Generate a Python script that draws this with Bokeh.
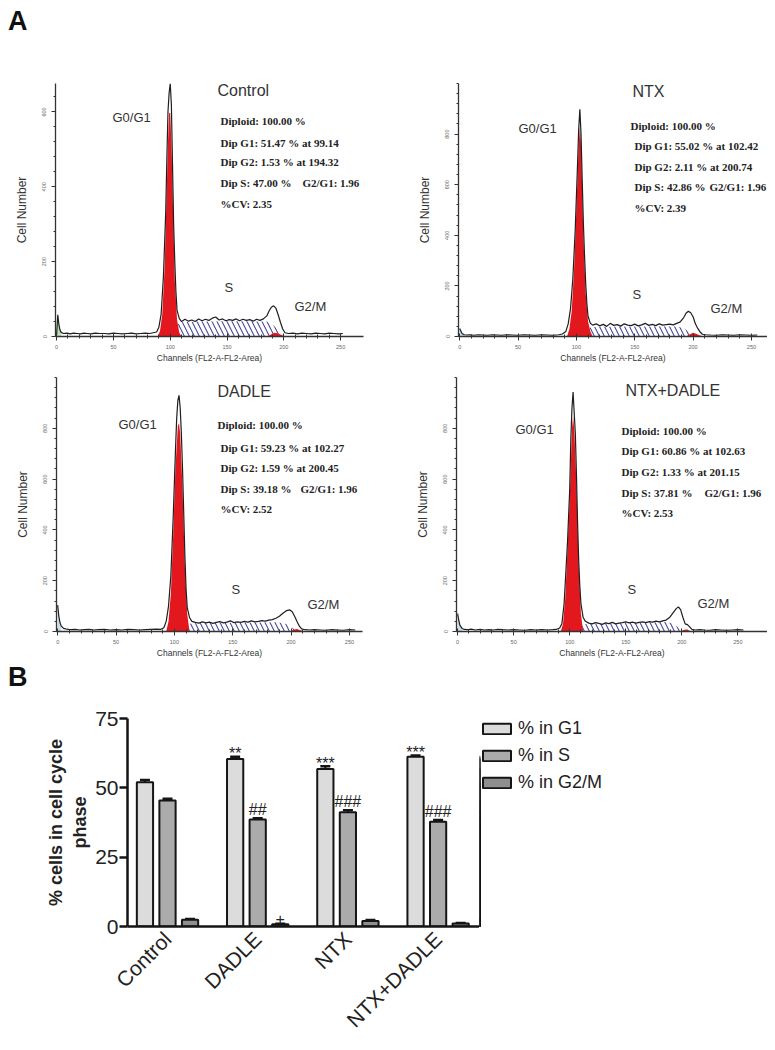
import math
import numpy as np
from bokeh.plotting import figure
from bokeh.models import (Range1d, FixedTicker, Label, Legend, LegendItem, Div,
                          Whisker, ColumnDataSource, TeeHead)
from bokeh.layouts import column, row
from bokeh.embed import file_html
from bokeh.resources import INLINE
from bokeh.core.properties import value

SANS = "Liberation Sans"
SERIF = "Liberation Serif"

# ---------------- Panel A : DNA histograms (channel, cell count) ----------------
ctrl_ch = [0, 1, 2, 3, 4, 6, 9, 12, 15, 18, 21, 24, 27, 30, 34, 38, 42, 46, 50, 54,
           58, 62, 66, 70, 74, 78, 82, 85, 88, 90, 92, 94, 96, 97, 98, 99, 100, 101, 102, 103,
           104, 105, 106, 108, 110, 113, 116, 119, 122, 125, 128, 131, 134, 137, 140, 143, 146, 149, 152, 155,
           158, 161, 164, 167, 170, 173, 176, 179, 182, 185, 187, 189, 191, 193, 195, 197, 199, 201, 204, 208,
           212, 216, 220, 224, 228, 232, 236, 240, 244, 248, 252]
ctrl_n = [5, 58, 32, 17, 11, 8, 9, 7, 9, 8, 7, 9, 8, 7, 9, 8, 8, 7, 9, 8,
          7, 8, 9, 7, 8, 9, 8, 10, 12, 25, 60, 160, 330, 470, 600, 650, 676, 620, 460, 300,
          200, 120, 70, 48, 40, 46, 41, 44, 40, 47, 42, 46, 43, 49, 52, 44, 47, 42, 45, 43,
          47, 42, 46, 43, 45, 41, 46, 43, 47, 55, 68, 78, 82, 76, 58, 38, 20, 10, 8, 9,
          7, 9, 8, 7, 9, 8, 7, 9, 8, 7, 8]
ctrl_red_ch = [89, 91, 93, 95, 97, 98, 99, 100, 101, 102, 104, 106, 108, 110, 186, 189, 192, 195, 198, 201]
ctrl_red_n = [0, 15, 60, 180, 400, 520, 597, 597, 520, 400, 150, 45, 10, 0, 0, 6, 10, 8, 4, 0]
ctrl_s_ch = [103, 106, 109, 115, 125, 135, 145, 155, 165, 175, 185, 190, 195, 201]
ctrl_s_n = [0, 30, 38, 39, 40, 40, 41, 41, 41, 40, 40, 32, 18, 0]
ctrl_stats = ["Diploid: 100.00 %", "Dip G1: 51.47 % at 99.14", "Dip G2: 1.53 % at 194.32",
              "Dip S: 47.00 %", "%CV: 2.35"]
ctrl_ratio = "G2/G1: 1.96"

ntx_ch = [0, 1, 2, 4, 6, 9, 12, 16, 20, 24, 28, 32, 36, 40, 45, 50, 55, 60, 65, 70,
          75, 80, 85, 88, 91, 93, 95, 97, 99, 101, 102, 103, 104, 105, 106, 107, 108, 109, 110, 112,
          114, 117, 120, 123, 126, 129, 132, 135, 138, 141, 144, 147, 150, 153, 156, 159, 162, 165, 168, 171,
          174, 177, 180, 183, 186, 189, 192, 194, 196, 198, 200, 202, 204, 206, 208, 211, 215, 220, 225, 230,
          235, 240, 245, 250, 255]
ntx_n = [32, 22, 12, 7, 6, 7, 5, 7, 6, 5, 7, 6, 5, 7, 6, 5, 7, 6, 5, 7,
         6, 5, 7, 10, 20, 50, 110, 230, 420, 680, 820, 898, 800, 620, 450, 320, 210, 130, 80, 52,
         45, 50, 42, 48, 40, 52, 44, 47, 41, 50, 45, 43, 49, 42, 46, 52, 44, 48, 43, 50,
         45, 47, 49, 46, 52, 58, 75, 92, 100, 94, 78, 50, 32, 18, 9, 7, 6, 5, 7, 6,
         5, 7, 6, 5, 6]
ntx_red_ch = [92, 94, 96, 98, 100, 102, 103, 104, 106, 108, 110, 112, 114, 194, 197, 200, 203, 206, 209]
ntx_red_n = [0, 30, 100, 260, 500, 760, 830, 760, 400, 170, 60, 20, 0, 0, 8, 15, 10, 4, 0]
ntx_s_ch = [108, 111, 115, 130, 150, 170, 186, 192, 198, 204]
ntx_s_n = [0, 35, 38, 39, 40, 40, 40, 34, 12, 0]
ntx_stats = ["Diploid: 100.00 %", "Dip G1: 55.02 % at 102.42", "Dip G2: 2.11 % at 200.74",
             "Dip S: 42.86 %", "%CV: 2.39"]
ntx_ratio = "G2/G1: 1.96"

dadle_ch = [0, 1, 2, 3, 5, 8, 11, 15, 19, 23, 27, 31, 35, 40, 45, 50, 55, 60, 65, 70,
            75, 80, 85, 88, 91, 93, 95, 97, 99, 101, 102, 103, 104, 105, 106, 107, 108, 109, 110, 111,
            113, 115, 118, 121, 124, 127, 130, 133, 136, 139, 142, 145, 148, 151, 154, 157, 160, 163, 166, 169,
            172, 175, 178, 181, 184, 187, 190, 193, 196, 199, 201, 203, 205, 207, 209, 212, 216, 220, 225, 230,
            235, 240, 245, 250, 255]
dadle_n = [104, 60, 35, 22, 12, 9, 7, 8, 6, 7, 8, 6, 7, 8, 6, 7, 6, 8, 7, 6,
           7, 8, 9, 8, 15, 40, 100, 220, 450, 720, 840, 910, 930, 880, 780, 640, 470, 300, 170, 95,
           55, 40, 36, 33, 38, 34, 37, 32, 36, 39, 34, 37, 42, 35, 38, 36, 40, 37, 42, 38,
           40, 43, 41, 45, 47, 52, 60, 72, 82, 85, 78, 60, 40, 22, 10, 7, 6, 7, 6, 5,
           7, 6, 5, 7, 6]
dadle_red_ch = [93, 95, 97, 99, 101, 103, 104, 105, 107, 109, 111, 113, 199, 202, 205, 208, 211]
dadle_red_n = [0, 40, 150, 380, 650, 810, 820, 780, 560, 260, 70, 0, 0, 7, 10, 5, 0]
dadle_s_ch = [109, 112, 116, 130, 150, 170, 188, 196, 202, 207]
dadle_s_n = [0, 30, 32, 33, 34, 35, 36, 30, 12, 0]
dadle_stats = ["Diploid: 100.00 %", "Dip G1: 59.23 % at 102.27", "Dip G2: 1.59 % at 200.45",
               "Dip S: 39.18 %", "%CV: 2.52"]
dadle_ratio = "G2/G1: 1.96"

nd_ch = [0, 1, 2, 4, 6, 9, 12, 16, 20, 24, 28, 32, 36, 40, 45, 50, 55, 60, 65, 70,
         75, 80, 85, 88, 91, 93, 95, 96, 98, 100, 101, 102, 103, 104, 105, 106, 107, 108, 109, 110,
         112, 114, 117, 120, 123, 126, 129, 132, 135, 138, 141, 144, 147, 150, 153, 156, 159, 162, 165, 168,
         171, 174, 177, 180, 183, 186, 189, 192, 195, 197, 199, 201, 203, 205, 207, 209, 212, 216, 220, 225,
         230, 235, 240, 245, 250, 255]
nd_n = [70, 45, 25, 12, 8, 7, 9, 6, 8, 6, 7, 6, 8, 7, 6, 7, 6, 5, 7, 6,
        7, 6, 7, 8, 14, 30, 110, 190, 350, 560, 760, 880, 943, 860, 780, 620, 430, 280, 180, 110,
        55, 40, 33, 30, 35, 32, 28, 34, 31, 36, 30, 33, 35, 38, 34, 37, 33, 36, 38, 35,
        39, 37, 41, 38, 42, 45, 55, 72, 90, 97, 85, 55, 30, 27, 18, 8, 6, 7, 6, 5,
        7, 6, 5, 6, 7, 6]
nd_red_ch = [92, 94, 96, 98, 100, 102, 103, 104, 106, 108, 110, 112, 199, 202, 205, 208]
nd_red_n = [0, 30, 130, 320, 520, 800, 845, 800, 580, 260, 70, 0, 0, 7, 8, 0]
nd_s_ch = [108, 111, 115, 130, 150, 170, 185, 192, 198, 203]
nd_s_n = [0, 28, 30, 31, 33, 35, 37, 32, 12, 0]
nd_stats = ["Diploid: 100.00 %", "Dip G1: 60.86 % at 102.63", "Dip G2: 1.33 % at 201.15",
            "Dip S: 37.81 %", "%CV: 2.53"]
nd_ratio = "G2/G1: 1.96"

chan_ticks = [0, 50, 100, 150, 200, 250]

# ---------------- Panel B : bar chart ----------------
groups = ["Control", "DADLE", "NTX", "NTX+DADLE"]
series_names = ["% in G1", "% in S", "% in G2/M"]
g1_pct = [52.0, 60.4, 56.8, 61.2]
g1_err = [0.8, 0.8, 1.0, 0.5]
s_pct = [45.4, 38.6, 41.2, 37.8]
s_err = [0.7, 0.4, 0.7, 0.6]
g2m_pct = [2.4, 0.8, 2.0, 1.1]
g2m_err = [0.3, 0.2, 0.3, 0.2]
g1_sig = ["", "**", "***", "***"]
s_sig = ["", "##", "###", "###"]
g2m_sig = ["", "+", "", ""]
pct_ticks = [0, 25, 50, 75]

# ---------------- layout / style constants ----------------
RED = "#e3171e"
HATCH = "#33358f"
PAGE = 8  # page offset of the reference
STAT_FONT = "11px"


def to_data(g, px, py):
    x = g["x0"] + (px - g["left"]) / (g["right"] - g["left"]) * (g["x1"] - g["x0"])
    y = g["y0"] + (g["bottom"] - py) / (g["bottom"] - g["top"]) * (g["y1"] - g["y0"])
    return x, y


def add_label(p, g, px, py, text, size, font=SANS, style="normal", color="#333333"):
    x, y = to_data(g, px, py)
    p.add_layout(Label(x=x, y=y, text=text, text_font=font, text_font_size=size,
                       text_font_style=style, text_color=color,
                       text_align="left", text_baseline="middle"))


def hist_panel(box, geo, ch, n, red_ch, red_n, s_ch, s_n, debris_color,
               y_major, title, stats, ratio, pos):
    fl, ft, fr, fb = box
    p = figure(width=fr - fl, height=fb - ft, output_backend="svg", toolbar_location=None,
               x_range=Range1d(geo["x0"], geo["x1"]), y_range=Range1d(geo["y0"], geo["y1"]),
               min_border_left=geo["left"] - fl, min_border_right=fr - geo["right"],
               min_border_top=geo["top"] - ft, min_border_bottom=fb - geo["bottom"])
    p.outline_line_color = None
    p.grid.visible = False
    p.background_fill_color = "white"
    p.border_fill_color = "white"

    p.varea(x=s_ch, y1=0, y2=s_n, fill_alpha=0, hatch_pattern="\\", hatch_color=HATCH,
            hatch_scale=10, hatch_weight=1.1, hatch_alpha=0.9)
    k = sum(1 for c in ch if c <= 4)
    p.varea(x=ch[:k], y1=0, y2=n[:k], fill_color=debris_color, fill_alpha=0.8)
    p.varea(x=red_ch, y1=0, y2=red_n, fill_color=RED)
    p.line(ch, n, line_color="#1e1e1e", line_width=1.2)

    xa = p.xaxis[0]
    xa.ticker = FixedTicker(ticks=chan_ticks, minor_ticks=list(range(0, 256, 10)))
    xa.axis_label = "Channels (FL2-A-FL2-Area)"
    ya = p.yaxis[0]
    top = geo["y_axis_top"]
    ya.ticker = FixedTicker(ticks=y_major, minor_ticks=list(range(0, int(top) + 1, 40)))
    ya.axis_label = "Cell Number"
    ya.major_label_orientation = "vertical"
    for ax in (xa, ya):
        ax.axis_line_color = "#333333"
        ax.axis_line_width = 1.3
        ax.major_tick_line_color = "#333333"
        ax.minor_tick_line_color = "#333333"
        ax.major_label_text_font = SANS
        ax.major_label_text_font_size = "5.5px"
        ax.major_label_text_color = "#666666"
        ax.axis_label_text_font = SANS
        ax.axis_label_text_font_style = "normal"
        ax.axis_label_text_color = "#333333"
        ax.major_tick_out = 4
        ax.minor_tick_out = 2
    xa.major_tick_in = 3
    xa.minor_tick_in = 2
    ya.major_tick_in = 0
    ya.minor_tick_in = 0
    xa.major_label_standoff = 4
    xa.axis_label_standoff = 1
    xa.axis_label_text_font_size = "8.5px"
    ya.major_label_standoff = 5
    ya.axis_label_standoff = 11
    ya.axis_label_text_font_size = "12px"

    add_label(p, geo, pos["title"][0], pos["title"][1], title, "16px")
    add_label(p, geo, pos["g1"][0], pos["g1"][1], "G0/G1", "13px")
    add_label(p, geo, pos["s"][0], pos["s"][1], "S", "13px")
    add_label(p, geo, pos["g2"][0], pos["g2"][1], "G2/M", "13px")
    for i, txt in enumerate(stats):
        px = pos["stats_x"][0] if i == 0 else pos["stats_x"][1]
        add_label(p, geo, px, pos["stats_y"][i], txt, STAT_FONT, font=SERIF, style="bold",
                  color="#222222")
    add_label(p, geo, pos["ratio_x"], pos["stats_y"][3], ratio, STAT_FONT, font=SERIF,
              style="bold", color="#222222")
    return p


# frame geometry in reference pixels; x ranges run a little past 250 channels so the
# statistics text (which in the reference runs past the axis end) is not clipped
ctrl_geo = dict(left=55, right=363, top=83, bottom=340, x0=-1, x1=-1 + 308 / 1.136, y0=0, y1=676,
                y_axis_top=676)
ntx_geo = dict(left=458, right=767, top=82, bottom=341, x0=-1, x1=-1 + 309 / 1.167, y0=0, y1=1000,
               y_axis_top=1000)
dadle_geo = dict(left=56, right=362, top=375, bottom=635, x0=-1, x1=-1 + 306 / 1.167, y0=0, y1=1000,
                 y_axis_top=1000)
nd_geo = dict(left=456, right=767, top=377, bottom=635, x0=-1, x1=-1 + 311 / 1.121, y0=0, y1=1000,
              y_axis_top=1000)

ctrl_pos = dict(title=(217, 90), g1=(112, 118), s=(224, 290), g2=(294, 310),
                stats_x=(220, 220), stats_y=[121, 143, 163, 184, 205], ratio_x=302)
ntx_pos = dict(title=(632, 90), g1=(518, 128), s=(632, 298), g2=(710, 312),
               stats_x=(630, 634), stats_y=[125, 146, 167, 188, 209], ratio_x=709)
dadle_pos = dict(title=(217, 389), g1=(118, 423), s=(231, 592), g2=(307, 607),
                 stats_x=(217, 220), stats_y=[424, 447, 468, 489, 510], ratio_x=300)
nd_pos = dict(title=(625, 390), g1=(515, 430), s=(627, 592), g2=(697, 607),
              stats_x=(621, 621), stats_y=[431, 452, 473, 494, 515], ratio_x=704)

p_ctrl = hist_panel((8, 40, 388, 365), ctrl_geo, ctrl_ch, ctrl_n, ctrl_red_ch, ctrl_red_n,
                    ctrl_s_ch, ctrl_s_n, "#a9dba3", [0, 200, 400, 600], "Control",
                    ctrl_stats, ctrl_ratio, ctrl_pos)
p_ntx = hist_panel((388, 40, 767, 365), ntx_geo, ntx_ch, ntx_n, ntx_red_ch, ntx_red_n,
                   ntx_s_ch, ntx_s_n, "#b8d4ea", [0, 200, 400, 600, 800], "NTX",
                   ntx_stats, ntx_ratio, ntx_pos)
p_dadle = hist_panel((8, 365, 388, 660), dadle_geo, dadle_ch, dadle_n, dadle_red_ch, dadle_red_n,
                     dadle_s_ch, dadle_s_n, "#b8d4ea", [0, 200, 400, 600, 800], "DADLE",
                     dadle_stats, dadle_ratio, dadle_pos)
p_nd = hist_panel((388, 365, 767, 660), nd_geo, nd_ch, nd_n, nd_red_ch, nd_red_n,
                  nd_s_ch, nd_s_n, "#b8d4ea", [0, 200, 400, 600, 800], "NTX+DADLE",
                  nd_stats, nd_ratio, nd_pos)

# ---------------- Panel B ----------------
bp = figure(width=437, height=382, output_backend="svg", toolbar_location=None,
            x_range=Range1d(0.5565, 4.459), y_range=Range1d(0, 75),
            min_border_left=85, min_border_right=0, min_border_top=58, min_border_bottom=103)
bp.outline_line_color = None
bp.grid.visible = False
bp.background_fill_color = "white"
bp.border_fill_color = "white"

gpos = np.arange(1, len(groups) + 1)
bar_w = 0.18
offsets = [-0.25, 0.0, 0.25]
fills = ["#dcdcdc", "#ababab", "#8e8e8e"]
vals = [g1_pct, s_pct, g2m_pct]
errs = [g1_err, s_err, g2m_err]
sigs = [g1_sig, s_sig, g2m_sig]
sig_off = [-3, -9, -5]
for k in range(3):
    xs = gpos + offsets[k]
    top_err = np.array(vals[k]) + np.array(errs[k])
    src = ColumnDataSource(dict(x=xs, top=vals[k], upper=top_err, sig=sigs[k]))
    bp.vbar(x="x", top="top", width=bar_w, bottom=0, source=src,
            fill_color=fills[k], line_color="#151515", line_width=2)
    bp.add_layout(Whisker(source=src, base="x", upper="upper", lower="top",
                          line_color="#151515", line_width=2,
                          upper_head=TeeHead(size=10, line_width=2.5, line_color="#151515"),
                          lower_head=None))
    bp.text(x="x", y="upper", text="sig", source=src, text_align="center",
            text_baseline="alphabetic", y_offset=sig_off[k],
            text_font=value(SANS), text_font_size="16px", text_color="#222222")

ya = bp.yaxis[0]
ya.ticker = FixedTicker(ticks=pct_ticks)
ya.axis_label = "% cells in cell cycle\nphase"
ya.axis_label_text_font = SANS
ya.axis_label_text_font_style = "bold"
ya.axis_label_text_font_size = "18px"
ya.axis_label_text_color = "#222222"
ya.axis_label_standoff = 2
ya.major_label_standoff = 1
ya.major_tick_out = 8
ya.major_tick_in = 0
ya.minor_tick_out = 0
ya.minor_tick_in = 0

xa = bp.xaxis[0]
xa.ticker = FixedTicker(ticks=list(gpos))
xa.major_label_overrides = {int(i): g for i, g in zip(gpos, groups)}
xa.major_label_orientation = math.pi / 4
xa.major_tick_out = 0
xa.major_tick_in = 0
xa.minor_tick_out = 0
xa.minor_tick_in = 0
xa.major_label_standoff = 9
for ax in (xa, ya):
    ax.axis_line_width = 2.5
    ax.axis_line_color = "#151515"
    ax.major_tick_line_width = 2.5
    ax.major_tick_line_color = "#151515"
    ax.major_label_text_font = SANS
    ax.major_label_text_font_size = "21px"
    ax.major_label_text_color = "#222222"

# legend lives in its own figure to the right of the bar chart; its renderers hold the
# same bars but lie outside that figure's visible range
lp = figure(width=288, height=382, output_backend="svg", toolbar_location=None,
            x_range=Range1d(100, 101), y_range=Range1d(0, 75),
            x_axis_location=None, y_axis_location=None,
            min_border_left=0, min_border_right=0, min_border_top=58, min_border_bottom=103)
lp.outline_line_color = None
lp.grid.visible = False
lp.background_fill_color = "white"
lp.border_fill_color = "white"
leg_items = []
for k in range(3):
    r = lp.vbar(x=gpos + offsets[k], top=vals[k], width=bar_w, fill_color=fills[k],
                line_color="#151515", line_width=2)
    leg_items.append(LegendItem(label=series_names[k], renderers=[r]))
legend = Legend(items=leg_items, location="top_left", margin=0, padding=6, spacing=6,
                glyph_width=35, glyph_height=13, label_height=20, label_standoff=4,
                label_text_font=SANS, label_text_font_size="18px", label_text_color="#222222",
                border_line_color=None, background_fill_alpha=0)
lp.add_layout(legend)

div_style = {"font-family": "Liberation Sans, Arial, sans-serif", "font-size": "27px",
             "font-weight": "bold", "line-height": "27px", "color": "#111111"}
div_a = Div(text="A", width=759, height=32, margin=(0, 0, 0, 0), styles=div_style)
div_b = Div(text="B", width=34, height=382, margin=(0, 0, 0, 0),
            styles=dict(div_style, **{"padding-top": "4px"}))

layout = column(div_a,
                row(p_ctrl, p_ntx, spacing=0),
                row(p_dadle, p_nd, spacing=0),
                row(div_b, bp, lp, spacing=0),
                spacing=0, margin=(PAGE, 0, 0, PAGE))

open("out.html", "w").write(file_html(layout, INLINE))
